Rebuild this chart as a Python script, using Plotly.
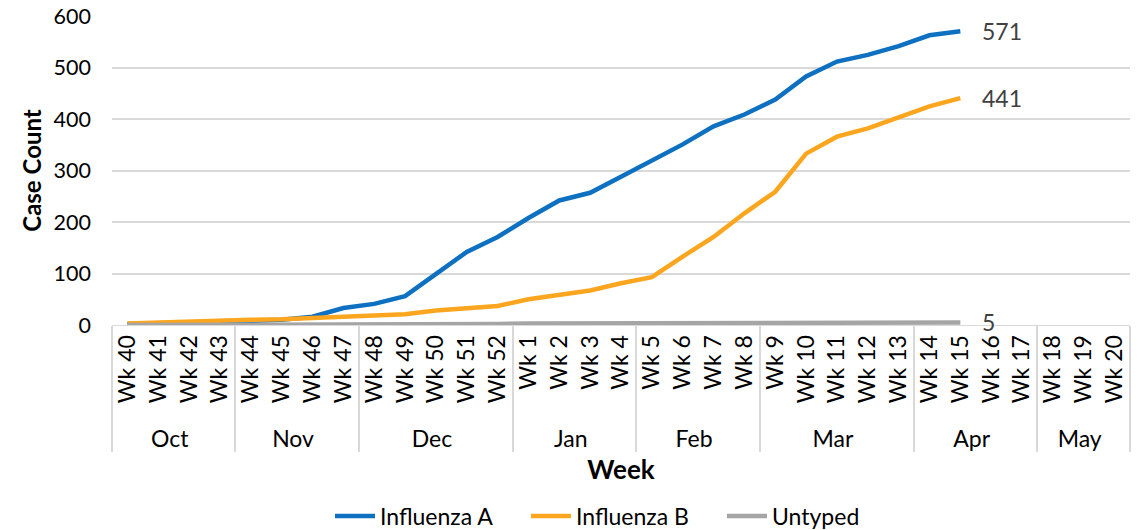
import plotly.graph_objects as go

months = ["Oct"] * 4 + ["Nov"] * 4 + ["Dec"] * 5 + ["Jan"] * 4 + ["Feb"] * 4 + ["Mar"] * 5 + ["Apr"] * 4 + ["May"] * 3
weeks = [f"Wk {w}" for w in range(40, 53)] + [f"Wk {w}" for w in range(1, 21)]

flu_a = [2, 3, 4, 6, 8, 10, 16, 33, 41, 56, 100, 142, 171, 208, 242, 257, 288, 319, 351, 386, 409, 438, 483, 512, 525, 542, 563, 571]
flu_b = [3, 5, 8, 9, 10, 11, 13, 16, 17, 21, 28, 33, 37, 50, 59, 67, 81, 93, 133, 171, 217, 259, 333, 366, 382, 403, 425, 441]
untyped = [0, 0, 0, 0, 0, 1, 1, 1, 1, 2, 2, 2, 2, 3, 3, 3, 3, 3, 4, 4, 4, 4, 4, 5, 5, 5, 5, 5]
y_ticks = [0, 100, 200, 300, 400, 500, 600]

series = [("Influenza A", flu_a, "#0E70C0"), ("Influenza B", flu_b, "#FCA61F"), ("Untyped", untyped, "#A5A5A5")]

FONT = "Lato, Carlito, sans-serif"
W, H = 1132, 522  # page body adds an 8px offset inside the 1140x530 window
n = len(weeks)
fig = go.Figure()
for name, vals, color in series:
    padded = vals + [None] * (n - len(vals))
    fig.add_trace(go.Scatter(
        x=[months, weeks], y=padded, name=name, mode="lines",
        line=dict(color=color, width=4.5),
    ))
    last = len(vals) - 1
    fig.add_annotation(x=last, y=vals[last], xref="x", yref="y", text=str(vals[last]),
                       showarrow=False, xanchor="left", xshift=20,
                       font=dict(family=FONT, size=23, color="#404040"))

fig.update_layout(
    width=W, height=H,
    margin=dict(l=104, r=10, t=8, b=205, autoexpand=False),
    plot_bgcolor="white", paper_bgcolor="white",
    font=dict(family=FONT, size=22, color="#000000"),
    showlegend=True,
    legend=dict(orientation="h", xref="container", yref="container",
                x=322 / W, xanchor="left", y=(H - 508) / H, yanchor="middle",
                font=dict(family=FONT, size=23, color="#000000"),
                entrywidth=141, entrywidthmode="pixels", itemwidth=40),
    xaxis=dict(
        type="multicategory", tickangle=-90, showgrid=False, range=[-0.5, n - 0.5],
        showline=True, linecolor="#D9D9D9", linewidth=1,
        showdividers=True, dividercolor="#D9D9D9", dividerwidth=1.5,
        tickfont=dict(family=FONT, size=23, color="#000000"),
        title=dict(text="<b>Week</b>", font=dict(family=FONT, size=26, color="#000000"), standoff=10),
        automargin=False,
    ),
    yaxis=dict(
        range=[0, 600.5], tickvals=y_ticks, showgrid=True,
        gridcolor="#D9D9D9", gridwidth=1.5, ticklabeloverflow="allow",
        zeroline=False, tickfont=dict(family=FONT, size=21.5, color="#000000"),
        title=dict(text="<b>Case Count</b>", font=dict(family=FONT, size=24, color="#000000"), standoff=5),
        automargin=False, ticks="", ticklabelstandoff=20,
    ),
)
fig.write_html("out.html")
